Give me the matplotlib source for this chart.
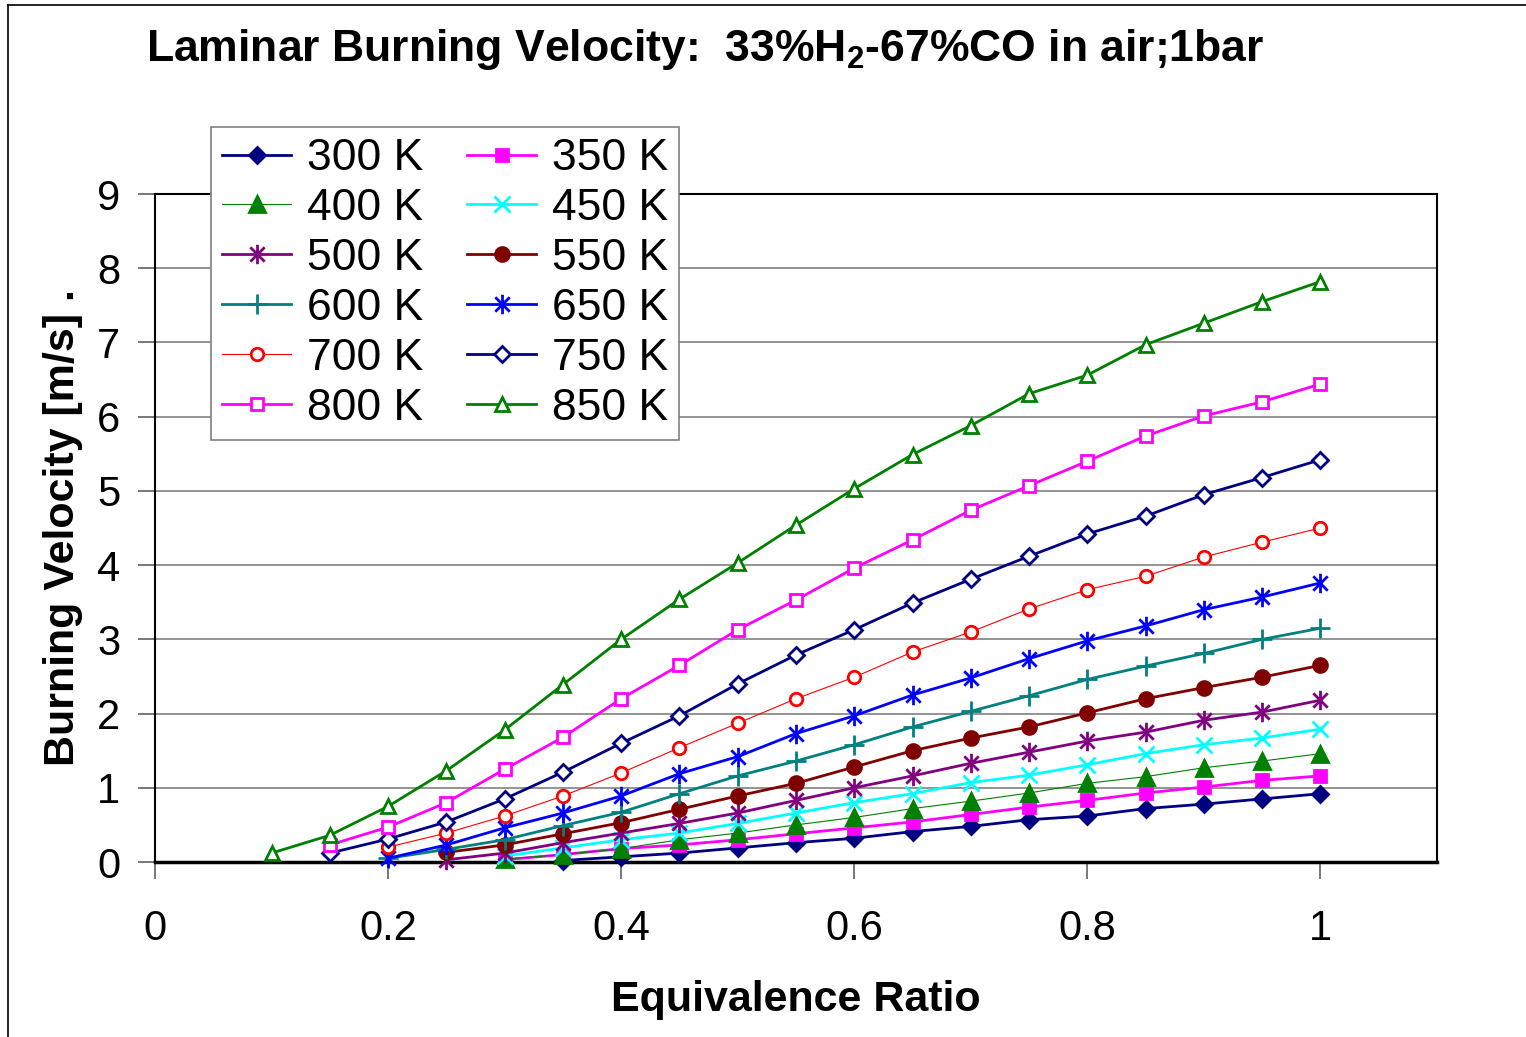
import matplotlib
matplotlib.use('Agg')
import matplotlib.pyplot as plt
from matplotlib.lines import Line2D
from matplotlib.path import Path

plt.rcParams['font.family'] = ['Liberation Sans', 'DejaVu Sans']
plt.rcParams['mathtext.fontset'] = 'custom'
plt.rcParams['mathtext.bf'] = 'Liberation Sans:bold'

# equivalence ratio grid
phi = [0.1, 0.15, 0.2, 0.25, 0.3, 0.35, 0.4, 0.45, 0.5, 0.55,
       0.6, 0.65, 0.7, 0.75, 0.8, 0.85, 0.9, 0.95, 1.0]

# burning velocity [m/s]; None where no flame was computed
s_300 = [None, None, None, None, None, 0.02, 0.07, 0.12, 0.19, 0.26,
         0.32, 0.41, 0.48, 0.57, 0.62, 0.72, 0.78, 0.85, 0.92]
s_350 = [None, None, None, None, 0.03, 0.10, 0.18, 0.23, 0.30, 0.38,
         0.46, 0.54, 0.64, 0.74, 0.83, 0.93, 1.01, 1.10, 1.16]
s_400 = [None, None, None, None, 0.04, 0.10, 0.18, 0.30, 0.39, 0.50,
         0.60, 0.72, 0.82, 0.93, 1.06, 1.15, 1.27, 1.36, 1.46]
s_450 = [None, None, None, None, 0.08, 0.19, 0.30, 0.39, 0.52, 0.66,
         0.80, 0.92, 1.07, 1.17, 1.31, 1.46, 1.58, 1.67, 1.79]
s_500 = [None, None, None, 0.03, 0.12, 0.26, 0.39, 0.52, 0.66, 0.83,
         1.00, 1.16, 1.33, 1.48, 1.63, 1.75, 1.91, 2.02, 2.18]
s_550 = [None, None, None, 0.13, 0.23, 0.38, 0.53, 0.71, 0.89, 1.06,
         1.28, 1.50, 1.67, 1.82, 2.01, 2.20, 2.35, 2.49, 2.65]
s_600 = [None, None, 0.05, 0.17, 0.30, 0.49, 0.67, 0.92, 1.16, 1.36,
         1.58, 1.82, 2.03, 2.24, 2.46, 2.64, 2.81, 3.00, 3.15]
s_650 = [None, None, 0.05, 0.23, 0.46, 0.66, 0.89, 1.19, 1.42, 1.73,
         1.97, 2.25, 2.48, 2.74, 2.98, 3.18, 3.40, 3.57, 3.76]
s_700 = [None, None, 0.20, 0.39, 0.62, 0.89, 1.20, 1.54, 1.87, 2.20,
         2.49, 2.83, 3.10, 3.41, 3.67, 3.85, 4.11, 4.31, 4.50]
s_750 = [None, 0.12, 0.31, 0.54, 0.85, 1.21, 1.60, 1.97, 2.40, 2.79,
         3.13, 3.49, 3.81, 4.12, 4.42, 4.66, 4.95, 5.18, 5.42]
s_800 = [None, 0.23, 0.47, 0.80, 1.25, 1.68, 2.20, 2.65, 3.13, 3.53,
         3.96, 4.34, 4.74, 5.07, 5.40, 5.74, 6.01, 6.20, 6.44]
s_850 = [0.12, 0.36, 0.75, 1.23, 1.78, 2.39, 3.00, 3.54, 4.03, 4.54,
         5.03, 5.49, 5.88, 6.31, 6.56, 6.97, 7.26, 7.55, 7.82]

labels = ['300 K', '350 K', '400 K', '450 K', '500 K', '550 K',
          '600 K', '650 K', '700 K', '750 K', '800 K', '850 K']
series = [s_300, s_350, s_400, s_450, s_500, s_550,
          s_600, s_650, s_700, s_750, s_800, s_850]

# asterisk marker: an x with a vertical bar
star = Path([(-1, -1), (1, 1), (-1, 1), (1, -1), (0, -1.35), (0, 1.35)],
            [Path.MOVETO, Path.LINETO, Path.MOVETO, Path.LINETO,
             Path.MOVETO, Path.LINETO])

# (colour, marker, filled, line width, marker size)
styles = [
    ('#000080', 'D', True, 2.0, 8),
    ('#FF00FF', 's', True, 2.0, 9),
    ('#008000', '^', True, 0.8, 11),
    ('#00FFFF', 'x', True, 2.0, 12),
    ('#800080', star, True, 2.0, 14),
    ('#800000', 'o', True, 2.0, 10),
    ('#008080', '+', True, 2.0, 15),
    ('#0000FF', star, True, 2.0, 14),
    ('#FF0000', 'o', False, 0.8, 9),
    ('#000080', 'D', False, 2.0, 8),
    ('#FF00FF', 's', False, 2.0, 9),
    ('#008000', '^', False, 2.0, 10),
]

fig = plt.figure(figsize=(15.26, 10.37), dpi=100)
ax = fig.add_axes([155 / 1526, 1 - 862 / 1037, 1282 / 1526, 668 / 1037])

lines = []
for ys, lab, (c, m, filled, lw, ms) in zip(series, labels, styles):
    xs = [x for x, y in zip(phi, ys) if y is not None]
    vs = [y for y in ys if y is not None]
    ln, = ax.plot(xs, vs, color=c, lw=lw, marker=m, markersize=ms,
                  markerfacecolor=c if filled else 'white',
                  markeredgecolor=c, markeredgewidth=2.0, label=lab,
                  clip_on=False, zorder=3)
    lines.append(ln)

ax.set_xlim(0, 1.1)
ax.set_ylim(0, 9)
ax.set_xticks([0, 0.2, 0.4, 0.6, 0.8, 1.0])
ax.set_xticklabels(['0', '0.2', '0.4', '0.6', '0.8', '1'])
ax.set_yticks(range(0, 10))
ax.yaxis.grid(True, color='#808080', lw=1.2)
ax.set_axisbelow(True)
ax.tick_params(axis='x', direction='out', length=12, width=1.2,
               color='#606060', labelsize=30, pad=22)
ax.tick_params(axis='y', direction='out', length=12, width=1.2,
               color='#606060', labelsize=30, pad=13)
for s in ['top', 'right', 'left']:
    ax.spines[s].set_linewidth(1.5)
ax.spines['bottom'].set_linewidth(2.5)

ax.set_xlabel('Equivalence Ratio', fontsize=31, fontweight='bold',
              labelpad=22)
ax.set_ylabel('Burning Velocity [m/s] .', fontsize=31,
              fontweight='bold', labelpad=10)

fig.text(705 / 1526, 1 - 49 / 1037,
         r'Laminar Burning Velocity:  33%H$_\mathbf{2}$-67%CO in air;1bar',
         fontsize=32, fontweight='bold', ha='center', va='center')

# legend filled row by row: even entries left column, odd entries right
order = list(range(0, 12, 2)) + list(range(1, 12, 2))
leg = ax.legend([lines[i] for i in order], [labels[i] for i in order],
                loc='upper left', ncol=2, fontsize=32,
                bbox_to_anchor=(211 / 1526, 1 - 127 / 1037),
                bbox_transform=fig.transFigure, borderaxespad=0,
                frameon=True, fancybox=False, framealpha=1,
                edgecolor='#808080', handlelength=1.55,
                handletextpad=0.35, columnspacing=1.0,
                labelspacing=0.2, borderpad=0.25)
leg.get_frame().set_linewidth(1.2)
leg.set_zorder(5)

# outer chart border
fig.add_artist(Line2D([8 / 1526, 8 / 1526], [0, 1 - 5 / 1037],
                      transform=fig.transFigure, color='black', lw=1.2))
fig.add_artist(Line2D([8 / 1526, 1], [1 - 5 / 1037, 1 - 5 / 1037],
                      transform=fig.transFigure, color='black', lw=1.2))

fig.savefig('out.png', dpi=100)
